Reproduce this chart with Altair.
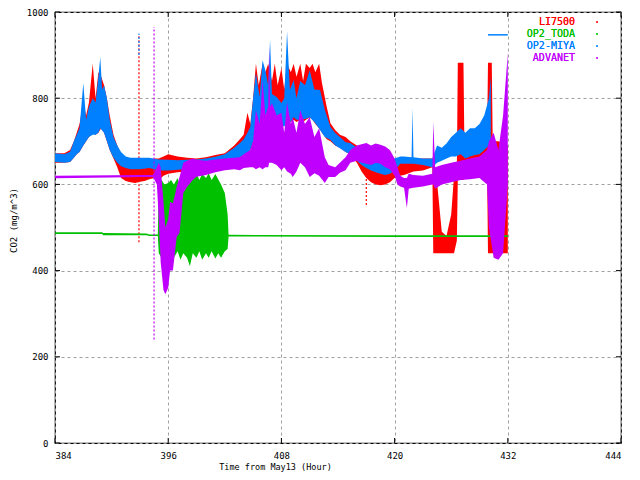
import altair as alt
import pandas as pd

LABELS = ["LI7500", "OP2_TODA", "OP2-MIYA", "ADVANET"]
COLORS = ["#ff0000", "#00c000", "#0080ff", "#c000ff"]
X_TICKS = [384, 396, 408, 420, 432, 444]
Y_TICKS = [0, 200, 400, 600, 800, 1000]

# LI7500 envelope (hour, low, high)
LI_T = [384.0, 385.0, 385.6, 386.0, 386.3, 386.6, 387.0, 387.3, 387.6, 388.0, 388.3, 388.6,
        388.9, 389.2, 389.5, 389.8, 390.2, 390.6, 391.0, 391.5, 392.0, 392.5, 393.0, 393.5,
        394.0, 394.5, 395.0, 395.5, 396.0, 397.0, 398.0, 399.0, 400.0, 401.0, 402.0, 403.0,
        403.6, 404.0, 404.4, 404.7, 405.0, 405.3, 405.6, 406.0, 406.3, 406.6, 407.0, 407.3,
        407.6, 408.0, 408.3, 408.6, 409.0, 409.3, 409.6, 410.0, 410.3, 410.6, 411.0, 411.3,
        411.6, 412.0, 412.3, 412.8, 413.2, 413.7, 414.2, 414.8, 415.3, 416.0, 416.5, 417.0,
        417.5, 418.0, 418.5, 419.0, 419.5, 420.0, 420.6, 421.0, 422.0, 423.0, 424.0, 424.1,
        424.5, 425.0, 425.5, 426.0, 426.3, 426.6, 426.7, 427.3, 427.4, 428.0, 428.5, 429.0,
        429.5, 429.8, 429.9, 430.3, 430.4, 431.0, 432.0]
LI_LO = [650, 650, 652, 662, 670, 675, 690, 700, 710, 720, 715, 720,
         730, 720, 700, 680, 660, 640, 615, 608, 605, 603, 606, 608,
         612, 615, 610, 620, 625, 628, 630, 635, 640, 645, 648, 652,
         660, 665, 670, 680, 690, 700, 710, 720, 730, 720, 730, 740,
         730, 735, 740, 740, 745, 750, 745, 750, 745, 750, 755, 750,
         740, 730, 720, 705, 700, 690, 685, 675, 670, 650, 630, 615,
         605, 600, 598, 600, 605, 615, 620, 622, 630, 632, 640, 440,
         440, 440, 440, 440, 440, 470, 610, 610, 630, 640, 640, 640,
         640, 640, 440, 440, 440, 440, 440]
LI_HI = [672, 672, 680, 700, 720, 740, 790, 760, 790, 880, 800, 860,
         850, 830, 800, 760, 715, 690, 670, 662, 658, 655, 655, 655,
         655, 660, 660, 665, 670, 665, 662, 660, 663, 668, 672, 690,
         705, 715, 766, 740, 800, 880, 830, 880, 860, 880, 840, 880,
         830, 870, 820, 880, 860, 880, 850, 880, 840, 880, 870, 880,
         860, 880, 835, 780, 742, 726, 715, 710, 700, 690, 680, 670,
         665, 660, 655, 655, 650, 655, 660, 662, 660, 660, 660, 660,
         605, 490, 480, 530, 620, 640, 882, 882, 690, 680, 680, 690,
         700, 700, 882, 882, 700, 700, 690]

# OP2_TODA envelope
TODA_T = [384.0, 389.0, 389.1, 393.7, 394.0, 394.9, 395.0, 395.3, 395.6, 396.0, 396.3, 396.6,
          397.0, 397.3, 397.6, 398.0, 398.3, 398.6, 399.0, 399.3, 399.6, 400.0, 400.3, 400.6,
          401.0, 401.3, 401.6, 402.0, 402.3, 402.4, 420.0, 432.0]
TODA_LO = [485, 485, 482, 482, 480, 480, 440, 430, 450, 425, 440, 430,
           445, 425, 440, 430, 410, 440, 430, 445, 425, 440, 430, 445,
           428, 440, 430, 445, 450, 479, 478, 478]
TODA_HI = [489, 489, 487, 486, 484, 484, 600, 610, 600, 603, 610, 600,
           615, 590, 620, 600, 625, 615, 626, 610, 625, 615, 626, 610,
           624, 612, 600, 580, 530, 483, 482, 482]

# OP2-MIYA envelope
MIYA_T = [384.0, 385.0, 385.6, 386.0, 386.3, 386.6, 387.0, 387.3, 387.6, 388.0, 388.3, 388.6,
          388.8, 389.0, 389.2, 389.5, 389.8, 390.2, 390.6, 391.0, 391.5, 392.0, 393.0, 394.0,
          395.0, 396.0, 397.0, 398.0, 399.0, 400.0, 401.0, 402.0, 403.0, 403.6, 404.0, 404.4,
          404.7, 405.0, 405.3, 405.7, 406.0, 406.3, 406.6, 406.8, 407.0, 407.5, 408.0, 408.3,
          408.6, 408.9, 409.3, 409.6, 410.0, 410.5, 411.0, 411.5, 412.1, 412.6, 413.2, 413.7,
          414.2, 414.8, 415.3, 416.0, 416.5, 417.0, 417.5, 418.0, 418.5, 419.0, 419.5, 420.0,
          420.6, 421.0, 421.8, 421.9, 422.0, 423.0, 424.0, 424.5, 425.0, 425.5, 426.0, 426.5,
          427.0, 427.5, 428.0, 428.5, 429.0, 429.5, 430.0, 430.2]
MIYA_LO = [652, 650, 652, 662, 670, 675, 690, 700, 710, 715, 715, 720,
           730, 725, 720, 700, 680, 662, 650, 642, 638, 635, 635, 638,
           632, 632, 634, 636, 638, 640, 642, 646, 652, 663, 668, 672,
           680, 700, 705, 703, 708, 710, 715, 710, 720, 726, 733, 735,
           742, 742, 756, 750, 750, 752, 756, 745, 726, 710, 703, 691,
           684, 675, 670, 655, 645, 638, 632, 628, 625, 622, 625, 632,
           648, 648, 648, 648, 648, 645, 640, 650, 655, 660, 665, 665,
           670, 660, 665, 668, 670, 680, 690, 690]
MIYA_HI = [672, 670, 676, 700, 715, 730, 835, 750, 780, 800, 790, 850,
           895, 820, 830, 800, 750, 710, 690, 675, 665, 662, 662, 662,
           658, 657, 656, 657, 658, 660, 664, 670, 685, 696, 705, 720,
           733, 800, 858, 803, 888, 865, 830, 935, 810, 803, 789, 800,
           955, 819, 842, 800, 840, 830, 865, 820, 819, 773, 733, 719,
           710, 698, 696, 685, 680, 672, 668, 665, 660, 658, 658, 660,
           665, 665, 663, 777, 663, 660, 660, 690, 685, 695, 710, 720,
           730, 720, 730, 730, 740, 760, 800, 850]

# ADVANET envelope
ADV_T = [384.0, 390.0, 393.0, 394.4, 394.8, 395.0, 395.2, 395.5, 395.7, 396.0, 396.2, 396.5,
         396.9, 397.2, 397.6, 398.0, 398.6, 399.0, 400.0, 401.0, 402.0, 403.0, 403.6, 404.0,
         404.7, 405.0, 405.3, 405.7, 406.0, 406.3, 406.6, 406.7, 406.8, 407.0, 407.5, 408.0,
         408.3, 408.6, 409.0, 409.2, 409.6, 410.0, 410.5, 411.0, 411.5, 412.0, 412.6, 413.0,
         413.7, 414.2, 414.8, 415.3, 416.0, 416.5, 417.0, 417.5, 418.0, 418.5, 419.0, 419.5,
         420.0, 420.3, 420.6, 421.0, 421.3, 421.5, 422.0, 423.0, 424.0, 424.1, 424.3, 425.0,
         426.0, 427.0, 428.0, 429.0, 429.8, 430.0, 430.5, 431.0, 431.5, 432.0]
ADV_LO = [614, 616, 617, 617, 600, 520, 420, 355, 345, 360, 400, 400,
          478, 487, 580, 594, 610, 618, 622, 628, 633, 635, 633, 638,
          640, 640, 635, 640, 635, 640, 640, 650, 650, 650, 645, 633,
          640, 630, 625, 617, 630, 650, 640, 617, 626, 620, 603, 617,
          617, 627, 633, 650, 655, 650, 648, 645, 650, 648, 640, 635,
          620, 600, 595, 592, 545, 590, 592, 595, 600, 600, 590, 600,
          605, 610, 612, 615, 600, 500, 430, 425, 440, 600]
ADV_HI = [620, 621, 622, 622, 640, 650, 640, 560, 500, 520, 560, 556,
          594, 617, 650, 655, 660, 657, 655, 658, 660, 662, 663, 670,
          680, 700, 772, 740, 842, 760, 780, 920, 780, 789, 760, 766,
          720, 790, 740, 756, 720, 772, 740, 756, 710, 730, 663, 645,
          640, 650, 663, 680, 690, 693, 696, 690, 695, 692, 688, 680,
          660, 640, 620, 615, 615, 625, 622, 620, 625, 745, 640, 645,
          650, 655, 660, 665, 680, 700, 720, 680, 760, 905]

# isolated spikes: series index, hour, low, high
SPIKE_S = [0, 2, 3, 0]
SPIKE_T = [392.9, 392.9, 394.5, 417.0]
SPIKE_LO = [466, 900, 240, 552]
SPIKE_HI = [947, 950, 965, 640]

# flat blue segment near top right
SEG_T1 = [429.9]
SEG_T2 = [432.0]
SEG_V = [947]

FONT = "DejaVu Sans Mono"
W, H = 566, 431

xs = alt.Scale(domain=[384, 444], nice=False, zero=False)
ys = alt.Scale(domain=[0, 1000], nice=False)

series = [(LI_T, LI_LO, LI_HI), (TODA_T, TODA_LO, TODA_HI),
          (MIYA_T, MIYA_LO, MIYA_HI), (ADV_T, ADV_LO, ADV_HI)]

layers = []

base_df = pd.DataFrame({"t": [384, 444], "v": [0, 1000]})
base = alt.Chart(base_df).mark_point(opacity=0).encode(
    x=alt.X("t:Q", scale=xs, axis=alt.Axis(values=X_TICKS, title="Time from May13 (Hour)",
                                           grid=True, ticks=False, domain=False, labelPadding=8,
                                           titleX=220, titleY=28, titleBaseline="bottom",
                                           titleFontSize=8.5, format="d")),
    y=alt.Y("v:Q", scale=ys, axis=alt.Axis(values=Y_TICKS, title="CO2 (mg/m^3)", grid=True,
                                           ticks=False, domain=False, labelPadding=7,
                                           titlePadding=8, titleY=208, format="d")),
)
layers.append(base)

spikes = pd.DataFrame({"s": SPIKE_S, "t": SPIKE_T, "lo": SPIKE_LO, "hi": SPIKE_HI})

for i, (T, LO, HI) in enumerate(series):
    df = pd.DataFrame({"t": T, "lo": LO, "hi": HI})
    layers.append(alt.Chart(df).mark_area(color=COLORS[i], opacity=1, interpolate="linear").encode(
        x=alt.X("t:Q", scale=xs),
        y=alt.Y("lo:Q", scale=ys),
        y2="hi:Q",
    ))
    sp = spikes[spikes.s == i]
    if len(sp):
        layers.append(alt.Chart(sp).mark_rule(color=COLORS[i], strokeWidth=1.2,
                                              strokeDash=[2, 2]).encode(
            x=alt.X("t:Q", scale=xs), y=alt.Y("lo:Q", scale=ys), y2="hi:Q"))
    if i == 2:
        seg = pd.DataFrame({"t1": SEG_T1, "t2": SEG_T2, "v": SEG_V})
        layers.append(alt.Chart(seg).mark_rule(color=COLORS[2], strokeWidth=1.5).encode(
            x=alt.X("t1:Q", scale=xs), x2="t2:Q", y=alt.Y("v:Q", scale=ys)))

# inward ticks (mirrored)
xt = pd.DataFrame({"t": X_TICKS})
yt = pd.DataFrame({"v": Y_TICKS})
layers.append(alt.Chart(xt).mark_rule(color="black").encode(
    x=alt.X("t:Q", scale=xs), y=alt.value(H), y2=alt.value(H - 5)))
layers.append(alt.Chart(xt).mark_rule(color="black").encode(
    x=alt.X("t:Q", scale=xs), y=alt.value(0), y2=alt.value(5)))
layers.append(alt.Chart(yt).mark_rule(color="black").encode(
    y=alt.Y("v:Q", scale=ys), x=alt.value(0), x2=alt.value(5)))
layers.append(alt.Chart(yt).mark_rule(color="black").encode(
    y=alt.Y("v:Q", scale=ys), x=alt.value(W), x2=alt.value(W - 5)))

# key
for i, lab in enumerate(LABELS):
    layers.append(alt.Chart(base_df).mark_text(align="right", baseline="middle", font=FONT,
                                               fontSize=10, color=COLORS[i]).encode(
        x=alt.value(520), y=alt.value(10 + 12 * i), text=alt.value(lab)))
    layers.append(alt.Chart(base_df).mark_square(size=2, color=COLORS[i], opacity=1).encode(
        x=alt.value(542), y=alt.value(10 + 12 * i)))

chart = alt.layer(*layers).properties(
    width=W, height=H,
    autosize=alt.AutoSizeParams(type="none"),
    padding={"left": 47, "top": 4, "right": 10, "bottom": 29},
).configure_view(stroke="black", strokeWidth=1.2).configure_axis(
    labelFont=FONT, titleFont=FONT, labelFontSize=9, titleFontSize=9,
    titleFontWeight="normal", labelColor="black", titleColor="black",
    gridColor="#a0a0a0", gridDash=[3, 3], gridWidth=1,
)

chart.save("out.html", embed_options={"renderer": "svg", "actions": False})
